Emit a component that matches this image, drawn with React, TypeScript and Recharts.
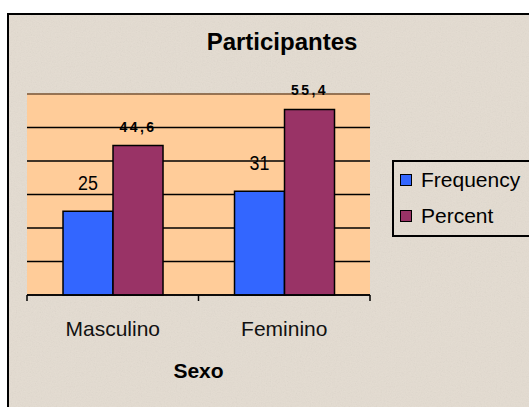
import { BarChart, Bar, XAxis, YAxis, CartesianGrid, Legend, LabelList, Label, ReferenceLine } from 'recharts'

const categories = ['Masculino', 'Feminino']
const frequency = [25, 31]
const percent = [44.6, 55.4]
const yTicks = [0, 10, 20, 30, 40, 50]

const data = categories.map((name, i) => ({
  name,
  Frequency: frequency[i],
  Percent: percent[i],
}))

const FONT = '"Liberation Sans", Arial, Helvetica, sans-serif'
const W = 529
const H = 407
const PLOT_LEFT = 27
const PLOT_RIGHT = 370
const PLOT_TOP = 94
const PLOT_BOTTOM = 295
const AXIS_HEIGHT = 100
const BAND = (PLOT_RIGHT - PLOT_LEFT) / categories.length

function CategoryTick(props: any) {
  const { x, payload, index } = props
  const left = x - BAND / 2
  const right = x + BAND / 2
  return (
    <g>
      <line x1={left} y1={PLOT_BOTTOM} x2={left} y2={PLOT_BOTTOM + 6} stroke="#000" strokeWidth={1.5} />
      {index === categories.length - 1 && (
        <line x1={right} y1={PLOT_BOTTOM} x2={right} y2={PLOT_BOTTOM + 6} stroke="#000" strokeWidth={1.5} />
      )}
      <text x={x} y={336} textAnchor="middle" fontFamily={FONT} fontSize={21} fill="#111">
        {payload.value}
      </text>
    </g>
  )
}

function AxisTitle(props: any) {
  const { viewBox } = props
  return (
    <text
      x={viewBox.x + viewBox.width / 2}
      y={378}
      textAnchor="middle"
      fontFamily={FONT}
      fontSize={21}
      fontWeight="bold"
      fill="#000"
    >
      Sexo
    </text>
  )
}

function FrequencyLabel(props: any) {
  const { x, y, width, value } = props
  return (
    <text
      transform={`translate(${x + width / 2},${y - 21.5}) scale(0.85,1)`}
      textAnchor="middle"
      fontFamily={FONT}
      fontSize={21}
      fill="#000"
    >
      {value}
    </text>
  )
}

function PercentLabel(props: any) {
  const { x, y, width, value } = props
  return (
    <text
      x={x + width / 2}
      y={y - 14}
      textAnchor="middle"
      fontFamily={FONT}
      fontSize={14}
      fontWeight="bold"
      letterSpacing={2.5}
      fill="#000"
    >
      {String(value).replace('.', ',')}
    </text>
  )
}

function LegendBox(props: any) {
  const { payload } = props
  return (
    <div
      style={{
        borderTop: '2px solid #000',
        borderLeft: '2px solid #000',
        borderBottom: '2px solid #000',
        boxSizing: 'border-box',
        width: 170,
        height: 77,
        fontFamily: FONT,
        fontSize: 21,
        color: '#000',
        paddingLeft: 6,
        whiteSpace: 'nowrap',
      }}
    >
      {(payload || []).map((entry: any) => (
        <div key={entry.value} style={{ display: 'flex', alignItems: 'center', height: 36, lineHeight: '36px' }}>
          <span
            style={{
              display: 'inline-block',
              flex: 'none',
              width: 12,
              height: 12,
              boxSizing: 'border-box',
              background: entry.color,
              border: '1.5px solid #000',
              marginRight: 9,
            }}
          />
          <span>{entry.value}</span>
        </div>
      ))}
    </div>
  )
}

export default function App() {
  return (
    <div
      style={{
        position: 'fixed',
        left: 0,
        top: 0,
        width: W,
        height: H,
        overflow: 'hidden',
        background: '#fff',
      }}
    >
      <div
        style={{
          position: 'absolute',
          left: 7,
          top: 13,
          width: 600,
          height: 500,
          borderTop: '2px solid #000',
          borderLeft: '2px solid #000',
          background: '#e4dcd1',
          overflow: 'hidden',
        }}
      >
        <svg width={600} height={500} style={{ position: 'absolute', left: 0, top: 0 }}>
          <filter id="grain">
            <feTurbulence type="fractalNoise" baseFrequency="0.8" numOctaves={2} seed={3} />
            <feColorMatrix type="saturate" values="0" />
          </filter>
          <rect width={600} height={500} filter="url(#grain)" opacity={0.12} />
        </svg>
      </div>
      <div
        style={{
          position: 'absolute',
          left: 0,
          top: 28,
          width: 564,
          textAlign: 'center',
          fontFamily: FONT,
          fontSize: 24,
          fontWeight: 'bold',
          lineHeight: '28px',
          color: '#000',
        }}
      >
        Participantes
      </div>
      <div style={{ position: 'absolute', left: 0, top: 0 }}>
        <BarChart
          width={W}
          height={H}
          data={data}
          margin={{ top: PLOT_TOP, right: W - PLOT_RIGHT, left: PLOT_LEFT, bottom: H - PLOT_BOTTOM - AXIS_HEIGHT }}
          barCategoryGap="21%"
          barGap={0}
        >
          <CartesianGrid horizontal vertical={false} stroke="#000" strokeWidth={1.4} fill="#ffcc99" fillOpacity={1} />
          <XAxis
            dataKey="name"
            height={AXIS_HEIGHT}
            axisLine={{ stroke: '#000', strokeWidth: 1.5 }}
            tickLine={false}
            tick={<CategoryTick />}
            interval={0}
          >
            <Label content={<AxisTitle />} />
          </XAxis>
          <YAxis hide domain={[0, 60]} ticks={yTicks} />
          <ReferenceLine y={60} stroke="#efb27c" strokeWidth={1} />
          <Legend
            layout="vertical"
            align="center"
            verticalAlign="middle"
            content={<LegendBox />}
            wrapperStyle={{ position: 'absolute', left: 392, top: 160, width: 170, height: 77 }}
          />
          <Bar dataKey="Frequency" fill="#3366ff" stroke="#000" strokeWidth={1.5} isAnimationActive={false}>
            <LabelList dataKey="Frequency" content={<FrequencyLabel />} />
          </Bar>
          <Bar dataKey="Percent" fill="#993366" stroke="#000" strokeWidth={1.5} isAnimationActive={false}>
            <LabelList dataKey="Percent" content={<PercentLabel />} />
          </Bar>
        </BarChart>
      </div>
    </div>
  )
}
